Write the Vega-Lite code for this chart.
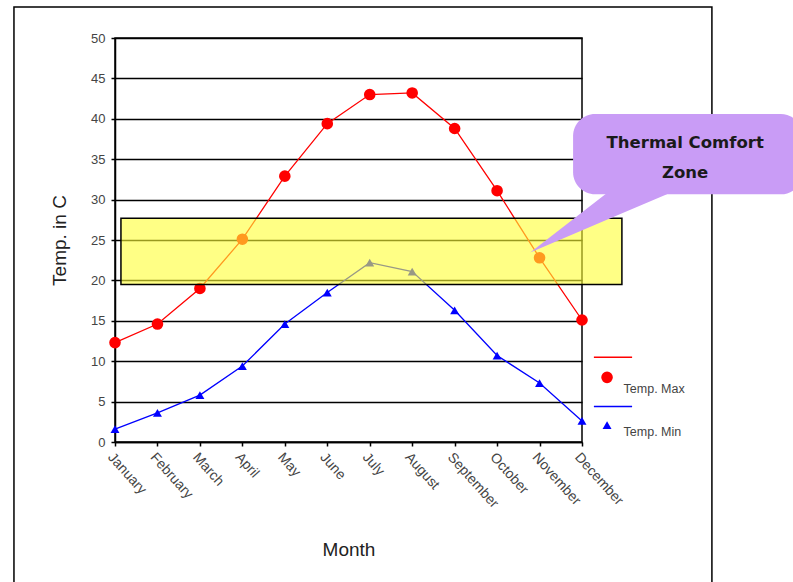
{
  "$schema": "https://vega.github.io/schema/vega-lite/v6.json",
  "width": 467,
  "height": 404,
  "autosize": "none",
  "padding": {"left": 115, "top": 38, "right": 211, "bottom": 140},
  "background": "white",
  "config": {"view": {"stroke": "#000", "strokeWidth": 1.5}, "font": "Liberation Sans"},
  "datasets": {
    "temps": [
      {"m": 1, "series": "Temp. Max", "temp": 12.3},
      {"m": 2, "series": "Temp. Max", "temp": 14.6},
      {"m": 3, "series": "Temp. Max", "temp": 19.0},
      {"m": 4, "series": "Temp. Max", "temp": 25.1},
      {"m": 5, "series": "Temp. Max", "temp": 32.9},
      {"m": 6, "series": "Temp. Max", "temp": 39.4},
      {"m": 7, "series": "Temp. Max", "temp": 43.0},
      {"m": 8, "series": "Temp. Max", "temp": 43.2},
      {"m": 9, "series": "Temp. Max", "temp": 38.8},
      {"m": 10, "series": "Temp. Max", "temp": 31.1},
      {"m": 11, "series": "Temp. Max", "temp": 22.8},
      {"m": 12, "series": "Temp. Max", "temp": 15.1},
      {"m": 1, "series": "Temp. Min", "temp": 1.6},
      {"m": 2, "series": "Temp. Min", "temp": 3.6},
      {"m": 3, "series": "Temp. Min", "temp": 5.8},
      {"m": 4, "series": "Temp. Min", "temp": 9.4},
      {"m": 5, "series": "Temp. Min", "temp": 14.6},
      {"m": 6, "series": "Temp. Min", "temp": 18.5},
      {"m": 7, "series": "Temp. Min", "temp": 22.2},
      {"m": 8, "series": "Temp. Min", "temp": 21.1},
      {"m": 9, "series": "Temp. Min", "temp": 16.3},
      {"m": 10, "series": "Temp. Min", "temp": 10.7},
      {"m": 11, "series": "Temp. Min", "temp": 7.3},
      {"m": 12, "series": "Temp. Min", "temp": 2.6}
    ],
    "tail": [
      {"tm": 10.78, "tt": 23.45, "tt2": 23.45},
      {"tm": 12.71, "tt": 31.3, "tt2": 27.77},
      {"tm": 14.0, "tt": 31.3, "tt2": 30.65}
    ]
  },
  "layer": [
    {
      "data": {"values": [{}]},
      "mark": {"type": "rect", "fill": null, "stroke": "#000", "strokeWidth": 1.5},
      "encoding": {
        "x": {"datum": -1.38, "type": "quantitative"},
        "x2": {"datum": 15.06},
        "y": {"datum": 53.85, "type": "quantitative"},
        "y2": {"datum": -20}
      }
    },
    {
      "data": {"name": "temps"},
      "mark": {"type": "line", "strokeWidth": 1.3},
      "encoding": {
        "x": {
          "field": "m", "type": "quantitative",
          "scale": {"domain": [1, 12], "nice": false, "zero": false},
          "axis": {
            "title": "Month", "values": [1,2,3,4,5,6,7,8,9,10,11,12],
            "labelExpr": "['January','February','March','April','May','June','July','August','September','October','November','December'][datum.value-1]",
            "labelAngle": 48, "labelAlign": "left", "labelBaseline": "top",
            "labelOverlap": false, "labelBound": false, "labelFlush": false,
            "labelFontSize": 14, "labelColor": "#444", "labelPadding": 4,
            "grid": false, "domainColor": "#000", "domainWidth": 1.5,
            "tickColor": "#000", "tickWidth": 1.5, "tickSize": 4,
            "titleFontSize": 19, "titleFontWeight": "normal", "titleColor": "#222", "titlePadding": 30
          }
        },
        "y": {
          "field": "temp", "type": "quantitative",
          "scale": {"domain": [0, 50], "nice": false},
          "axis": {
            "title": "Temp. in C", "values": [0,5,10,15,20,25,30,35,40,45,50],
            "labelFontSize": 13, "labelColor": "#444", "labelPadding": 6,
            "labelOverlap": false, "labelFlush": false,
            "grid": true, "gridColor": "#000", "gridWidth": 1.5,
            "domainColor": "#000", "domainWidth": 1.5,
            "tickColor": "#000", "tickWidth": 1.5, "tickSize": 4,
            "titleFontSize": 19, "titleFontWeight": "normal", "titleColor": "#222", "titlePadding": 21
          }
        },
        "color": {"field": "series", "type": "nominal", "scale": {"domain": ["Temp. Max", "Temp. Min"], "range": ["#ff0000", "#0000ff"]}, "legend": null}
      }
    },
    {
      "data": {"name": "temps"},
      "mark": {"type": "point", "filled": true, "opacity": 1},
      "encoding": {
        "x": {"field": "m", "type": "quantitative"},
        "y": {"field": "temp", "type": "quantitative"},
        "color": {"field": "series", "type": "nominal", "legend": null},
        "shape": {"field": "series", "type": "nominal", "scale": {"domain": ["Temp. Max", "Temp. Min"], "range": ["circle", "triangle-up"]}, "legend": null},
        "size": {"field": "series", "type": "nominal", "scale": {"domain": ["Temp. Max", "Temp. Min"], "range": [135, 80]}, "legend": null}
      }
    },
    {
      "data": {"values": [{}]},
      "mark": {"type": "rect", "fill": "#ffff33", "fillOpacity": 0.6, "stroke": "#000", "strokeWidth": 1.5},
      "encoding": {
        "x": {"datum": 1.14, "type": "quantitative"},
        "x2": {"datum": 12.94},
        "y": {"datum": 19.5, "type": "quantitative"},
        "y2": {"datum": 27.7}
      }
    },
    {
      "data": {"name": "tail"},
      "mark": {"type": "area", "fill": "#c99cf6", "orient": "vertical"},
      "encoding": {
        "x": {"field": "tm", "type": "quantitative"},
        "y": {"field": "tt", "type": "quantitative"},
        "y2": {"field": "tt2"}
      }
    },
    {
      "data": {"values": [{}]},
      "mark": {"type": "rect", "fill": "#c99cf6", "cornerRadius": 22},
      "encoding": {
        "x": {"datum": 11.79, "type": "quantitative"},
        "x2": {"datum": 17.2},
        "y": {"datum": 40.6, "type": "quantitative"},
        "y2": {"datum": 30.65}
      }
    },
    {
      "data": {"values": [{"label": "Thermal Comfort", "lx": 14.43, "ly": 37.0}, {"label": "Zone", "lx": 14.43, "ly": 33.3}]},
      "mark": {"type": "text", "font": "DejaVu Sans", "fontWeight": 600, "fontSize": 16.5, "color": "#1a1a1a", "align": "center", "baseline": "middle"},
      "encoding": {
        "x": {"field": "lx", "type": "quantitative"},
        "y": {"field": "ly", "type": "quantitative"},
        "text": {"field": "label"}
      }
    },
    {
      "data": {"values": [{"s": "Temp. Max", "x1": 12.28, "x2": 13.18, "ly": 10.5}, {"s": "Temp. Min", "x1": 12.28, "x2": 13.18, "ly": 4.4}]},
      "mark": {"type": "rule", "strokeWidth": 1.5},
      "encoding": {
        "x": {"field": "x1", "type": "quantitative"},
        "x2": {"field": "x2"},
        "y": {"field": "ly", "type": "quantitative"},
        "color": {"field": "s", "type": "nominal", "legend": null}
      }
    },
    {
      "data": {"values": [{"s": "Temp. Max", "px": 12.59, "py": 8.0}, {"s": "Temp. Min", "px": 12.59, "py": 2.1}]},
      "mark": {"type": "point", "filled": true, "opacity": 1},
      "encoding": {
        "x": {"field": "px", "type": "quantitative"},
        "y": {"field": "py", "type": "quantitative"},
        "color": {"field": "s", "type": "nominal", "legend": null},
        "shape": {"field": "s", "type": "nominal", "legend": null},
        "size": {"field": "s", "type": "nominal", "legend": null}
      }
    },
    {
      "data": {"values": [{"s": "Temp. Max", "tx": 12.98, "ty": 6.6}, {"s": "Temp. Min", "tx": 12.98, "ty": 1.2}]},
      "mark": {"type": "text", "fontSize": 12.5, "color": "#444", "align": "left", "baseline": "middle"},
      "encoding": {
        "x": {"field": "tx", "type": "quantitative"},
        "y": {"field": "ty", "type": "quantitative"},
        "text": {"field": "s"}
      }
    }
  ]
}
